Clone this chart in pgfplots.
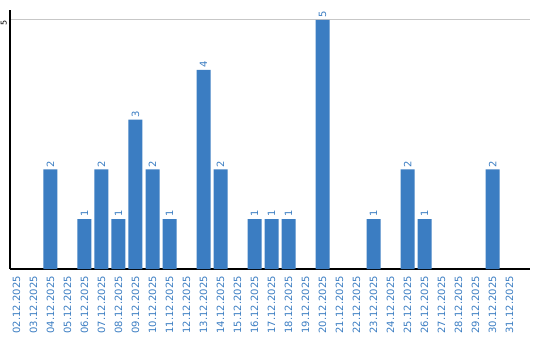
\documentclass[border=0pt]{standalone}
\usepackage{pgfplots}
\pgfplotsset{compat=1.18}
\usepackage{fontspec}
\setmainfont{DejaVu Sans}
\definecolor{barblue}{RGB}{59,125,194}
\begin{document}
\begin{tikzpicture}
\useasboundingbox (-10pt,-71pt) rectangle (530pt,269pt);
\begin{axis}[
 at={(0,0)}, anchor=south west,
 scale only axis, width=520pt, height=259pt,
 xmin=-0.38, xmax=30.2, ymin=0, ymax=5.2,
 axis x line=bottom, axis y line=left,
 axis line style={line width=1.5pt,-},
 xtick={0,...,29},
 xticklabels={02.12.2025,03.12.2025,04.12.2025,05.12.2025,06.12.2025,07.12.2025,08.12.2025,09.12.2025,10.12.2025,11.12.2025,12.12.2025,13.12.2025,14.12.2025,15.12.2025,16.12.2025,17.12.2025,18.12.2025,19.12.2025,20.12.2025,21.12.2025,22.12.2025,23.12.2025,24.12.2025,25.12.2025,26.12.2025,27.12.2025,28.12.2025,29.12.2025,30.12.2025,31.12.2025},
 ytick={5},
 ymajorgrids, grid style={black!22,line width=1pt},
 major tick length=0pt,
 /pgf/number format/assume math mode=true,
 xticklabel style={rotate=90,anchor=east,text=barblue,font=\fontsize{10}{12}\selectfont,inner sep=0pt},
 xticklabel shift=7pt,
 yticklabel style={rotate=90,anchor=south east,font=\fontsize{8}{10}\selectfont,inner sep=0pt},
 yticklabel shift=3pt,
 ybar, bar width=14pt,
 nodes near coords,
 nodes near coords style={rotate=90,anchor=west,text=barblue,font=\fontsize{10}{12}\selectfont,inner sep=2pt},
]
\addplot[fill=barblue,draw=none] coordinates {
(2,2) (4,1) (5,2) (6,1) (7,3) (8,2) (9,1) (11,4) (12,2) (14,1) (15,1) (16,1) (18,5) (21,1) (23,2) (24,1) (28,2)
};
\end{axis}
\end{tikzpicture}
\end{document}
